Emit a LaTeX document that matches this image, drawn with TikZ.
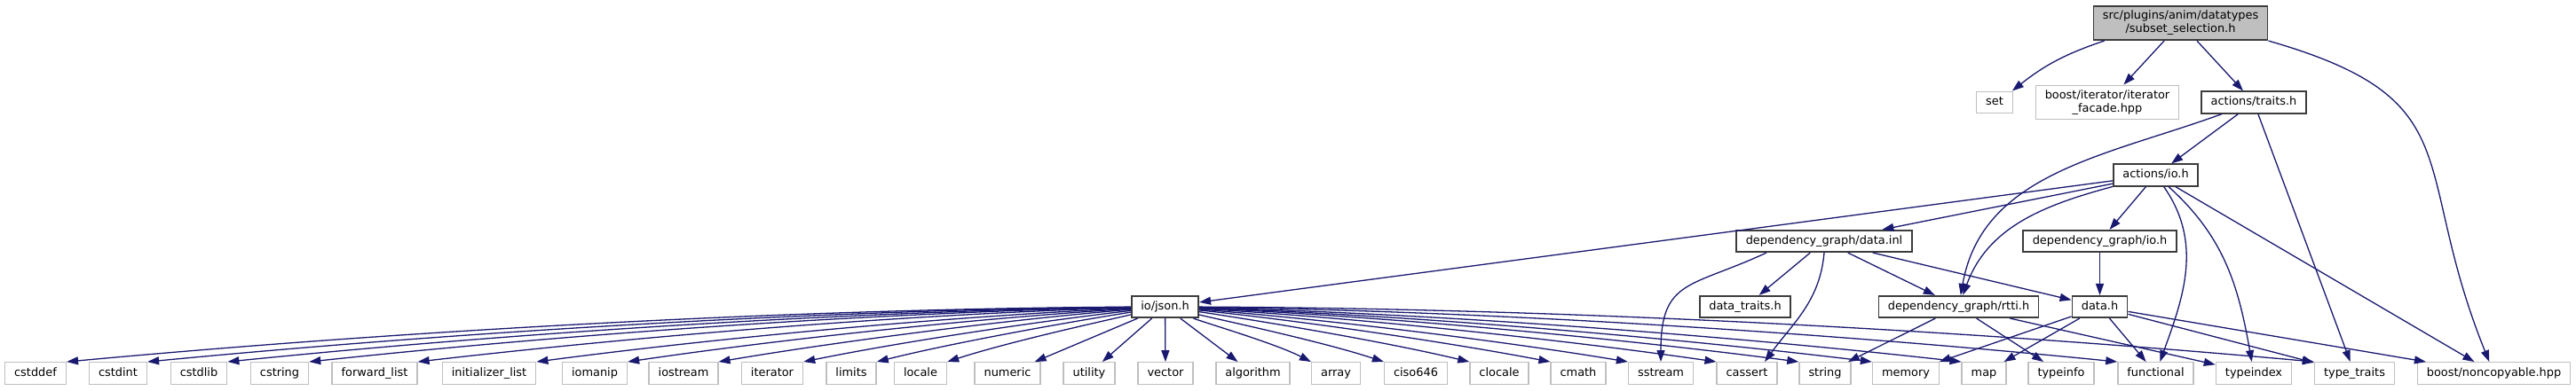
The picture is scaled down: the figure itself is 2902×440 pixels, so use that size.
\documentclass[tikz,border=0pt]{standalone}
\usepackage{fontspec}
\setmainfont{DejaVu Sans}
\usepackage{tikz}
\usetikzlibrary{arrows.meta}
\usepackage{xcolor}

\definecolor{depblue}{HTML}{191970}
\definecolor{sysgray}{HTML}{BFBFBF}
\definecolor{incgray}{HTML}{3C3C3C}
\definecolor{topfill}{HTML}{BFBFBF}

\begin{document}
\begin{tikzpicture}[x=1pt,y=1pt,>={Triangle[length=13pt,width=9pt]},
		box/.style={draw=incgray,fill=white,line width=1.6pt,inner xsep=10.5pt,inner ysep=0pt,
			minimum height=24.5pt,text height=9.8pt,text depth=3pt,font=\fontsize{12.9}{15}\selectfont},
		sysbox/.style={box,draw=sysgray,line width=1.4pt},
		twoline/.style={align=center,text height=,text depth=,minimum height=38.5pt},
		dep/.style={->,draw=depblue,line width=1.3pt}]
		
		\useasboundingbox (0,0) rectangle (2902,440);
		
		% The file itself
		\node[box,fill=topfill,twoline] (sel) at (2456.5,414) {src/plugins/anim/datatypes\\/subset\_selection.h};
		
		% Project headers
		\node[sysbox] (set) at (2247,324.5) {set};
		\node[sysbox,twoline] (facade) at (2374,324.5) {boost/iterator/iterator\\\_facade.hpp};
		\node[box] (traits) at (2539,324.5) {actions/traits.h};
		\node[box] (actio) at (2428.5,242.5) {actions/io.h};
		\node[box] (datainl) at (2055,168) {dependency\_graph/data.inl};
		\node[box] (dgio) at (2365.5,168) {dependency\_graph/io.h};
		\node[box] (json) at (1312.5,94) {io/json.h};
		\node[box] (dtraits) at (1966,94) {data\_traits.h};
		\node[box] (rtti) at (2206.5,94) {dependency\_graph/rtti.h};
		\node[box] (datah) at (2365.5,94) {data.h};
		
		% System headers
		\node[sysbox] (cstddef) at (40,19) {cstddef};
		\node[sysbox] (cstdint) at (133,19) {cstdint};
		\node[sysbox] (cstdlib) at (224,19) {cstdlib};
		\node[sysbox] (cstring) at (315,19) {cstring};
		\node[sysbox] (fwdlist) at (422,19) {forward\_list};
		\node[sysbox] (initlist) at (551,19) {initializer\_list};
		\node[sysbox] (iomanip) at (670,19) {iomanip};
		\node[sysbox] (iostream) at (770,19) {iostream};
		\node[sysbox] (iterator) at (870,19) {iterator};
		\node[sysbox] (limits) at (959,19) {limits};
		\node[sysbox] (locale) at (1037,19) {locale};
		\node[sysbox] (numeric) at (1135,19) {numeric};
		\node[sysbox] (utility) at (1227,19) {utility};
		\node[sysbox] (vector) at (1313,19) {vector};
		\node[sysbox] (algorithm) at (1411.5,19) {algorithm};
		\node[sysbox] (array) at (1505,19) {array};
		\node[sysbox] (ciso) at (1595,19) {ciso646};
		\node[sysbox] (clocale) at (1689,19) {clocale};
		\node[sysbox] (cmath) at (1778,19) {cmath};
		\node[sysbox] (sstream) at (1871,19) {sstream};
		\node[sysbox] (cassert) at (1968,19) {cassert};
		\node[sysbox] (string) at (2056,19) {string};
		\node[sysbox] (memory) at (2147,19) {memory};
		\node[sysbox] (map) at (2235,19) {map};
		\node[sysbox] (typeinfo) at (2322,19) {typeinfo};
		\node[sysbox] (functional) at (2428.5,19) {functional};
		\node[sysbox] (typeindex) at (2539,19) {typeindex};
		\node[sysbox] (typetraits) at (2652.5,19) {type\_traits};
		\node[sysbox] (noncop) at (2809.5,19) {boost/noncopyable.hpp};
		
		% Includes of the file itself
		\draw[dep] (sel) to[bend right=10] (set);
		\draw[dep] (sel) -- (facade);
		\draw[dep] (sel) -- (traits);
		\draw[dep] (sel.south east) to[out=-16,in=112,looseness=1.4] (noncop);
		
		% actions/traits.h
		\draw[dep] (traits) -- (actio);
		\draw[dep] (traits) to[out=200,in=80] (rtti);
		\draw[dep] (traits) -- (typetraits);
		
		% actions/io.h
		\draw[dep] (actio) -- (json);
		\draw[dep] (actio) -- (datainl);
		\draw[dep] (actio) to[out=195,in=70] (rtti);
		\draw[dep] (actio) -- (dgio);
		\draw[dep] (actio) to[out=-55,in=70] (functional);
		\draw[dep] (actio) to[out=-42,in=100] (typeindex);
		\draw[dep] (actio) -- (noncop);
		
		% dependency_graph/io.h
		\draw[dep] (dgio) -- (datah);
		
		% dependency_graph/data.inl
		\draw[dep] ([xshift=-65pt]datainl.south) to[out=205,in=90,looseness=1.4] (sstream);
		\draw[dep] (datainl) -- (dtraits);
		\draw[dep] (datainl.south) to[out=-95,in=54] ([xshift=20pt]cassert.north);
		\draw[dep] (datainl) -- (rtti);
		\draw[dep] (datainl) -- (datah);
		
		% dependency_graph/rtti.h
		\draw[dep] (rtti) -- (string);
		\draw[dep] (rtti) -- (typeinfo);
		\draw[dep] (rtti) -- (typeindex);
		
		% data.h
		\draw[dep] (datah) -- (memory);
		\draw[dep] (datah) -- (map);
		\draw[dep] (datah) -- (functional);
		\draw[dep] (datah) -- (typetraits);
		\draw[dep] (datah) -- (noncop);
		
		% io/json.h, to the left
		\draw[dep] (json) .. controls +(180.3:400) and +(5.3:400) .. (cstddef.north east);
		\draw[dep] (json) .. controls +(180.5:370) and +(5.5:370) .. (cstdint.north east);
		\draw[dep] (json) .. controls +(180.8:340) and +(5.8:340) .. (cstdlib.north east);
		\draw[dep] (json) .. controls +(181.1:310) and +(6.1:310) .. (cstring.north east);
		\draw[dep] (json) .. controls +(181.6:270) and +(6.6:270) .. (fwdlist.north east);
		\draw[dep] (json) .. controls +(182.5:225) and +(7.5:225) .. (initlist.north east);
		\draw[dep] (json) .. controls +(183.4:190) and +(8.4:190) .. (iomanip.north east);
		\draw[dep] (json) .. controls +(184.6:156) and +(9.6:156) .. (iostream.north east);
		\draw[dep] (json) .. controls +(186.5:125) and +(11.5:125) .. (iterator.north east);
		\draw[dep] (json) .. controls +(189:97) and +(14:97) .. (limits.north east);
		\draw[dep] (json) .. controls +(193:73) and +(18:73) .. (locale.north east);
		
		% io/json.h, below
		\draw[dep] (json) -- (numeric);
		\draw[dep] (json) -- (utility);
		\draw[dep] (json) -- (vector);
		\draw[dep] (json) -- (algorithm);
		
		% io/json.h, to the right
		\draw[dep] (json) .. controls +(-22.2:46) and +(152.8:46) .. (array.north west);
		\draw[dep] (json) .. controls +(-13.2:72) and +(161.8:72) .. (ciso.north west);
		\draw[dep] (json) .. controls +(-8.4:102) and +(166.6:102) .. (clocale.north west);
		\draw[dep] (json) .. controls +(-5.8:133) and +(169.2:133) .. (cmath.north west);
		\draw[dep] (json) .. controls +(-4.4:162) and +(170.6:162) .. (sstream.north west);
		\draw[dep] (json) .. controls +(-3.2:195) and +(171.8:195) .. (cassert.north west);
		\draw[dep] (json) .. controls +(-2.4:226) and +(172.6:226) .. (string.north west);
		\draw[dep] (json) .. controls +(-1.9:253) and +(173.1:253) .. (memory.north west);
		\draw[dep] (json) .. controls +(-1.4:287) and +(173.6:287) .. (map.north west);
		\draw[dep] (json) .. controls +(-0.7:345) and +(174.3:345) .. (functional.north west);
		\draw[dep] (json) .. controls +(-0.2:419) and +(174.8:419) .. (typetraits.north west);
		
	\end{tikzpicture}
\end{document}
